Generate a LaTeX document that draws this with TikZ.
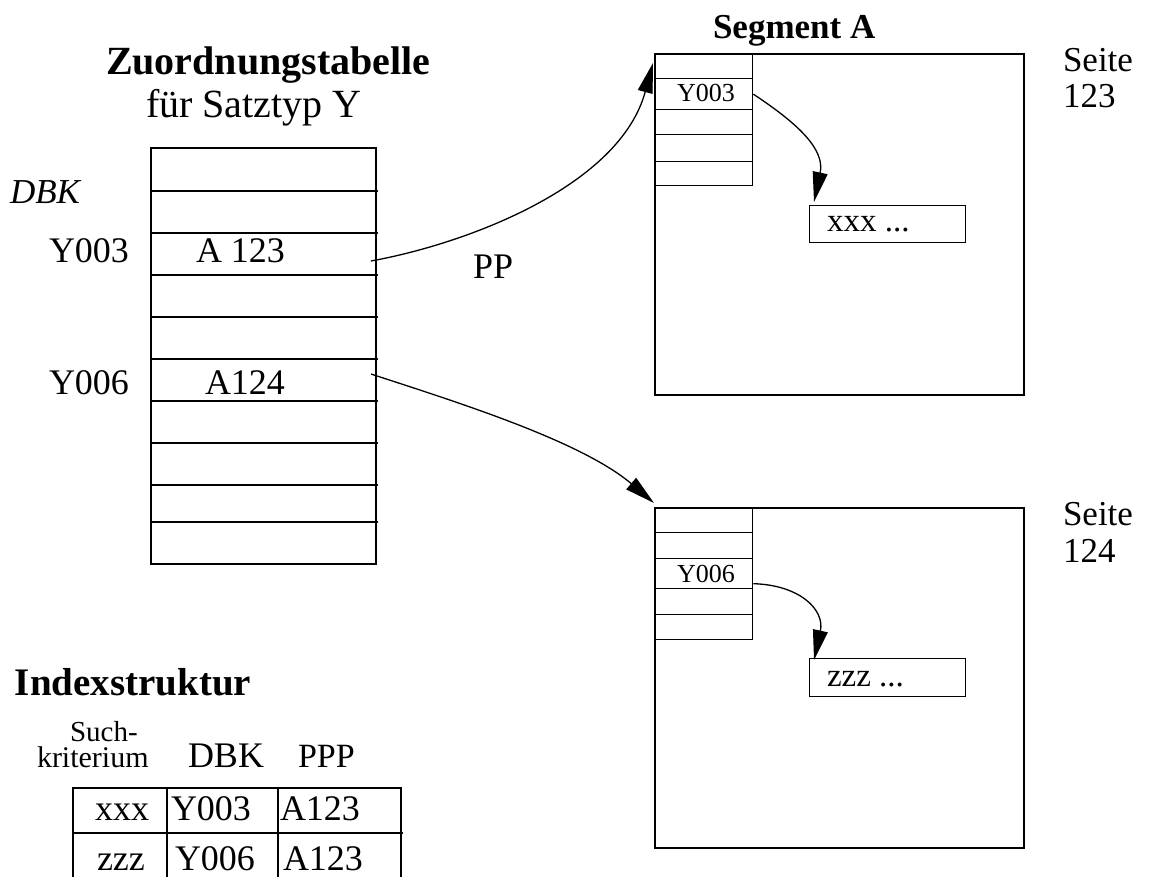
\documentclass[tikz,border=0pt]{standalone}
\usepackage{fontspec}
\setmainfont{Liberation Serif}
\usetikzlibrary{arrows.meta}
\newcommand\myfs[1]{\fontsize{#1}{#1}\selectfont}
\tikzset{
  txt/.style={anchor=base west, inner sep=0pt, outer sep=0pt, font=\myfs{36}},
  frame/.style={draw, line width=1.6pt},
  rule/.style={line width=1.4pt},
  cell/.style={draw, line width=1.4pt, inner sep=0pt, anchor=north west},
  arr/.style={line width=1.3pt, -{Triangle[length=30pt,width=15pt]}},
}
\begin{document}
\begin{tikzpicture}[x=1pt,y=-1pt]
\useasboundingbox (0,0) rectangle (1171,877);
\clip (0,0) rectangle (1171,877);

% ---------- Zuordnungstabelle ----------
\node[txt, font=\myfs{40}\bfseries] (ztitle) at (106,75) {Zuordnungstabelle};
\node[txt, font=\myfs{40}] (zsub) at (146,118) {für Satztyp Y};
\node[txt, font=\myfs{35}\itshape] (dbk) at (10,204) {DBK};

\draw[frame] (151,148) rectangle (376,564);
\foreach \yy in {191,233,275,317,359,401,443,485,522}
  \draw[rule] (151,\yy) -- (378,\yy);

\node[txt] (ky3) at (49,263) {Y003};
\node[txt] (va3) at (196,263) {A 123};
\node[txt] (ky6) at (49,395) {Y006};
\node[txt] (va6) at (205,395) {A124};
\coordinate (a1) at (371,261);
\coordinate (a2) at (371,374);
\node[txt] (pp) at (473,279) {PP};

% ---------- Segment A, Seite 123 ----------
\node[txt, font=\myfs{35}\bfseries] (seg) at (713,39) {Segment A};
\node[cell, line width=1.6pt, minimum width=369pt, minimum height=341pt] (p123) at (654,53) {};
\node[cell, minimum width=98pt, minimum height=25pt] (c1a) at (654,53) {};
\node[cell, minimum width=98pt, minimum height=31pt] (c1b) at (654,78) {};
\node[cell, minimum width=98pt, minimum height=25pt] (c1c) at (654,109) {};
\node[cell, minimum width=98pt, minimum height=27pt] (c1d) at (654,134) {};
\node[cell, minimum width=98pt, minimum height=24pt] (c1e) at (654,161) {};
\node[txt, font=\myfs{26}] (y3s) at (677,102) {Y003};
\node[cell, minimum width=156pt, minimum height=37pt] (xb) at (809,205) {};
\node[txt, font=\myfs{33}] (xt) at (827,232) {xxx ...};
\node[txt, font=\myfs{35}] (s1) at (1063,72) {Seite};
\node[txt, font=\myfs{35}] (n1) at (1063,108) {123};

% ---------- Seite 124 ----------
\node[cell, line width=1.6pt, minimum width=369pt, minimum height=340pt] (p124) at (654,507) {};
\node[cell, minimum width=98pt, minimum height=25pt] (c2a) at (654,507) {};
\node[cell, minimum width=98pt, minimum height=26pt] (c2b) at (654,532) {};
\node[cell, minimum width=98pt, minimum height=30pt] (c2c) at (654,558) {};
\node[cell, minimum width=98pt, minimum height=26pt] (c2d) at (654,588) {};
\node[cell, minimum width=98pt, minimum height=25pt] (c2e) at (654,614) {};
\node[txt, font=\myfs{26}] (y6s) at (677,582) {Y006};
\node[cell, minimum width=156pt, minimum height=38pt] (zb) at (809,658) {};
\node[txt, font=\myfs{33}] (zt) at (827,686) {zzz ...};
\node[txt, font=\myfs{35}] (s2) at (1063,525) {Seite};
\node[txt, font=\myfs{35}] (n2) at (1063,562) {124};

% ---------- arrows ----------
\draw[arr] (a1) .. controls (470,243) and (620,185) .. ([xshift=-1pt,yshift=-10pt]p123.north west);
\draw[arr] (a2) .. controls (450,400) and (580,440) .. ([yshift=4pt]p124.north west);
\draw[arr] (c1b.east) .. controls (800,125) and (825,150) .. ([xshift=5pt,yshift=3pt]xb.north west);
\draw[arr] ([yshift=-10pt]c2c.east) .. controls (800,585) and (825,610) .. ([xshift=5pt,yshift=-2pt]zb.north west);

% ---------- Indexstruktur ----------
\node[txt, font=\myfs{39}\bfseries] (ititle) at (15,695) {Indexstruktur};
\node[txt, font=\myfs{29}] (such) at (70,741) {Such-};
\node[txt, font=\myfs{30}] (krit) at (37,767) {kriterium};
\node[txt] (hdbk) at (188,767) {DBK};
\node[txt, font=\myfs{34}] (hppp) at (298,767) {PPP};

\draw[frame] (73,788) rectangle (401,900);
\draw[rule] (73,833) -- (403,833);
\draw[rule] (167,788) -- (167,900);
\draw[rule] (278,788) -- (278,900);

\node[txt] (i11) at (95,820) {xxx};
\node[txt] (i12) at (171,820) {Y003};
\node[txt] (i13) at (280,820) {A123};
\node[txt] (i21) at (97,870) {zzz};
\node[txt] (i22) at (175,870) {Y006};
\node[txt] (i23) at (283,870) {A123};
\end{tikzpicture}
\end{document}
